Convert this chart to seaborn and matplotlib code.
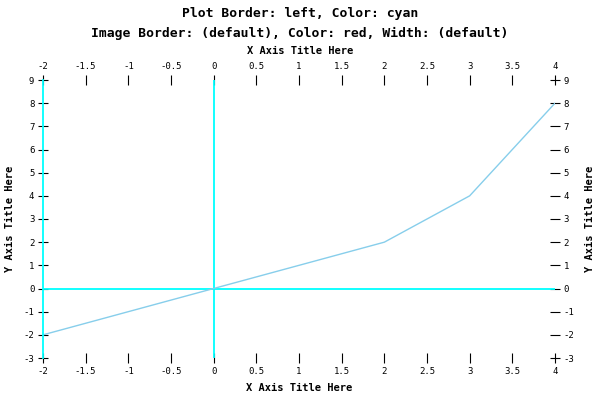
import numpy as np
import pandas as pd
import matplotlib
matplotlib.use('Agg')
import matplotlib.pyplot as plt
import seaborn as sns

# данные линии
x_vals = [-2, 0, 2, 3, 4]
y_vals = [-2, 0, 2, 4, 8]
x_ticks = [-2, -1.5, -1, -0.5, 0, 0.5, 1, 1.5, 2, 2.5, 3, 3.5, 4]
y_ticks = [-3, -2, -1, 0, 1, 2, 3, 4, 5, 6, 7, 8, 9]

df = pd.DataFrame({'x': x_vals, 'y': y_vals})

sns.set_style('white')
plt.rcParams['font.family'] = ['DejaVu Sans Mono']
plt.rcParams['text.color'] = 'black'
plt.rcParams['axes.labelcolor'] = 'black'

fig = plt.figure(figsize=(6, 4), dpi=100)
ax = fig.add_axes([43/600, 1-358/400, (555-43)/600, (358-80)/400])

ax.axhline(0, color='cyan', lw=1.3, zorder=1)
ax.axvline(0, color='cyan', lw=1.3, zorder=1)
sns.lineplot(data=df, x='x', y='y', color='#87CEEB', lw=1, ax=ax, zorder=2)

ax.set_xlim(-2, 4)
ax.set_ylim(-3, 9)
ax.set_xticks(x_ticks)
ax.set_xticklabels([f'{t:g}' for t in x_ticks])
ax.set_yticks(y_ticks)
ax.set_yticklabels([f'{t:g}' for t in y_ticks])

for side in ['top', 'right', 'bottom']:
    ax.spines[side].set_visible(False)
ax.spines['left'].set_color('cyan')
ax.spines['left'].set_linewidth(1.3)

ax.tick_params(axis='both', which='major', direction='inout', length=6.5, width=0.8,
               color='black', labelcolor='black', labelsize=6.5, top=True,
               bottom=True, left=True, right=True, labeltop=True,
               labelbottom=True, labelleft=True, labelright=True, pad=3)

ax.set_xlabel('X Axis Title Here', fontsize=7.5, fontweight='bold', labelpad=5)
ax.set_ylabel('Y Axis Title Here', fontsize=7.5, fontweight='bold', labelpad=6)

fig.text(0.5, 1-13/400, 'Plot Border: left, Color: cyan', ha='center', va='center',
         fontsize=9.4, fontweight='bold')
fig.text(0.5, 1-33/400, 'Image Border: (default), Color: red, Width: (default)',
         ha='center', va='center', fontsize=9.4, fontweight='bold')
fig.text(0.5, 1-51/400, 'X Axis Title Here', ha='center', va='center',
         fontsize=7.5, fontweight='bold')
fig.text(590/600, 1-(80+358)/2/400, 'Y Axis Title Here', ha='center',
         va='center', rotation=90, fontsize=7.5, fontweight='bold')

fig.savefig('out.png', dpi=100)
